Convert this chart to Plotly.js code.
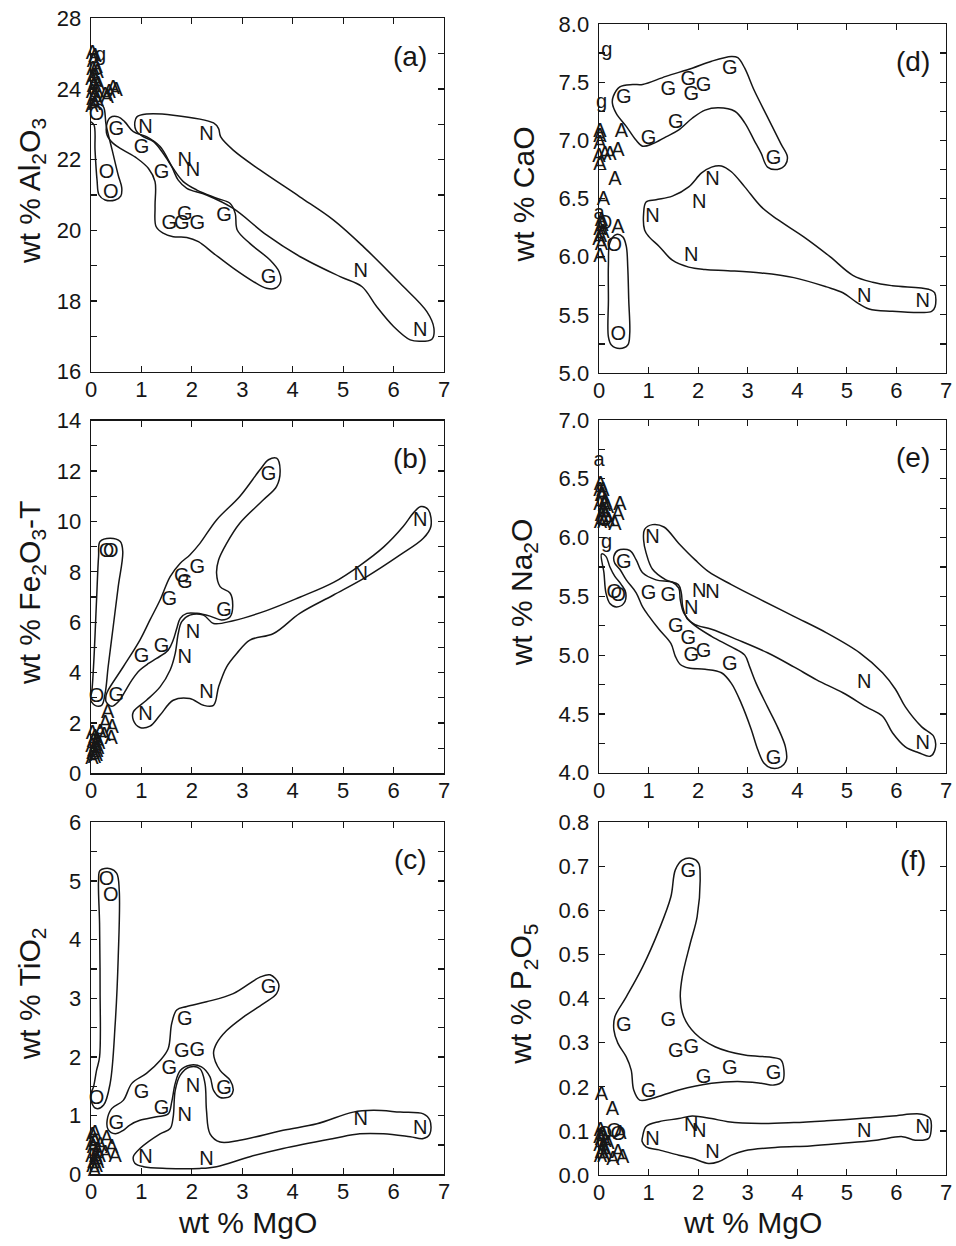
<!DOCTYPE html>
<html>
<head>
<meta charset="utf-8">
<script src="https://cdn.plot.ly/plotly-3.0.1.min.js"></script>
<style>
  html, body { margin: 0; padding: 0; background: #fff; }
  #chart { width: 956px; height: 1246px; }
</style>
</head>
<body>
<div id="chart"></div>
<script>
// ---- MgO (wt %) of the sample groups, shared by all six panels ----
const mgoG = [0.50, 1.00, 1.40, 1.55, 1.80, 1.86, 2.11, 2.64, 3.52];
const mgoN = [1.08, 1.86, 2.02, 2.29, 5.35, 6.53];
const mgoO = [0.11, 0.31, 0.39];

// ---- (a) Al2O3 ----
const alG = [22.84, 22.32, 21.63, 20.17, 20.17, 20.43, 20.17, 20.41, 18.66];
const alN = [22.90, 21.96, 21.69, 22.70, 18.82, 17.16];
const alO = [23.26, 21.63, 21.07];
const alA = [[0.03,25.0],[0.08,24.9],[0.05,24.75],[0.10,24.6],[0.04,24.55],[0.12,24.45],[0.06,24.35],[0.02,24.25],[0.09,24.2],[0.05,24.05],[0.11,23.95],[0.03,23.9],[0.08,23.8],[0.04,23.7],[0.12,23.65],[0.07,23.55],[0.02,23.5],[0.14,24.1],[0.28,23.8],[0.36,23.9],[0.44,24.0],[0.50,23.95],[0.32,23.75]];
const alMinor = [[0.19,24.92,'g']];
const alEnvO = [[0.06,22.98],[0.08,22.27],[0.12,21.42],[0.16,21.0],[0.28,20.86],[0.48,20.86],[0.59,20.97],[0.61,21.20],[0.54,21.56],[0.42,22.27],[0.30,22.98],[0.24,23.51],[0.10,23.57],[-0.03,23.46],[-0.03,23.12]];
const alEnvG = [[0.38,23.19],[0.54,23.21],[0.67,23.07],[0.84,22.79],[1.10,22.65],[1.37,22.37],[1.63,21.75],[1.83,21.38],[2.10,21.14],[2.49,20.91],[2.76,20.76],[2.86,20.48],[2.90,20.01],[3.15,19.63],[3.55,19.16],[3.73,18.83],[3.76,18.55],[3.65,18.36],[3.48,18.36],[3.22,18.55],[2.82,18.93],[2.43,19.35],[2.13,19.68],[1.90,19.80],[1.63,19.82],[1.43,19.92],[1.29,20.11],[1.27,20.67],[1.27,21.38],[1.14,21.75],[0.91,22.04],[0.64,22.27],[0.44,22.46],[0.32,22.69],[0.31,22.98]];
const alEnvN = [[0.91,23.21],[1.10,23.29],[1.63,23.26],[2.43,23.04],[2.53,22.88],[2.57,22.65],[2.82,22.27],[3.35,21.71],[4.14,20.95],[4.81,20.29],[5.40,19.54],[6.13,18.50],[6.66,17.70],[6.80,17.23],[6.76,16.92],[6.52,16.86],[6.33,16.90],[6.00,17.28],[5.66,17.85],[5.37,18.41],[4.94,18.69],[4.14,19.26],[3.48,19.87],[2.82,20.62],[2.29,21.0],[1.90,21.19],[1.73,21.42],[1.60,21.80],[1.43,22.18],[1.24,22.51],[1.01,22.67],[0.89,22.84],[0.87,23.07]];
const alTicks = [16,18,20,22,24,26];
const alTickText = ['16','18','20','22','24','28'];
const alMinorTicks = [17,19,21,23,25];

// ---- (b) Fe2O3-T ----
const feG = [3.06, 4.63, 5.00, 6.88, 7.81, 7.57, 8.17, 6.46, 11.85];
const feN = [2.31, 4.56, 5.58, 3.17, 7.87, 10.0];
const feO = [3.04, 8.80, 8.80];
const feA = [[0.03,1.55],[0.08,1.4],[0.05,1.25],[0.12,1.3],[0.02,1.05],[0.09,1.1],[0.06,0.9],[0.13,0.95],[0.04,0.75],[0.10,0.7],[0.07,0.6],[0.15,1.15],[0.18,1.6],[0.02,0.55],[0.11,0.85],[0.33,2.4],[0.28,1.95],[0.42,1.8],[0.26,1.5],[0.40,1.35]];
const feMinor = [];
const feEnvO = [[0.01,3.17],[0.05,4.23],[0.11,6.88],[0.15,8.60],[0.18,9.20],[0.38,9.33],[0.58,9.20],[0.63,8.80],[0.54,7.41],[0.44,5.82],[0.34,4.23],[0.28,3.17],[0.21,2.70],[0.08,2.70],[-0.02,2.97]];
const feEnvG = [[0.34,3.30],[0.64,4.23],[0.97,5.29],[1.17,6.09],[1.37,6.88],[1.57,7.81],[1.77,8.34],[1.96,8.67],[2.16,9.13],[2.49,10.06],[2.95,10.99],[3.35,12.05],[3.52,12.45],[3.68,12.51],[3.75,12.05],[3.68,11.39],[3.42,10.86],[2.95,9.93],[2.69,9.13],[2.53,8.47],[2.49,7.94],[2.56,7.41],[2.76,7.15],[2.81,6.62],[2.76,6.22],[2.59,6.09],[2.36,6.24],[2.10,6.35],[1.90,6.35],[1.77,6.15],[1.70,5.75],[1.63,5.29],[1.53,4.89],[1.30,4.56],[1.14,4.36],[0.97,4.10],[0.81,3.70],[0.67,3.23],[0.54,2.84],[0.41,2.66],[0.30,2.84],[0.30,3.10]];
const feEnvN = [[0.84,2.44],[1.10,2.90],[1.37,3.43],[1.57,4.10],[1.67,4.76],[1.73,5.55],[1.80,6.02],[1.96,6.28],[2.23,6.28],[2.43,5.95],[2.82,6.06],[3.48,6.46],[4.14,6.99],[4.81,7.58],[5.33,8.25],[5.80,8.98],[6.19,9.80],[6.39,10.33],[6.54,10.59],[6.69,10.46],[6.74,9.80],[6.59,9.33],[6.13,8.67],[5.47,7.81],[4.81,7.08],[4.14,6.35],[3.62,5.55],[3.15,5.29],[2.89,4.76],[2.69,4.23],[2.53,3.43],[2.43,2.70],[2.23,2.70],[1.96,2.97],[1.63,2.90],[1.37,2.31],[1.17,1.87],[0.97,1.82],[0.84,2.11]];
const feTicks = [0,2,4,6,8,10,12,14];
const feTickText = ['0','2','4','6','8','10','12','14'];
const feMinorTicks = [1,3,5,7,9,11,13];

// ---- (c) TiO2 ----
const tiG = [0.86, 1.38, 1.12, 1.80, 2.09, 2.63, 2.11, 1.46, 3.18];
const tiN = [0.28, 0.99, 1.49, 0.25, 0.92, 0.78];
const tiO = [1.29, 5.01, 4.74];
const tiA = [[0.03,0.65],[0.08,0.55],[0.05,0.45],[0.12,0.4],[0.02,0.3],[0.09,0.3],[0.06,0.2],[0.13,0.2],[0.04,0.12],[0.10,0.12],[0.16,0.3],[0.07,0.06],[0.02,0.5],[0.11,0.25],[0.08,0.69],[0.31,0.61],[0.18,0.49],[0.41,0.44],[0.28,0.35],[0.48,0.30]];
const tiMinor = [];
const tiEnvO = [[0.05,1.49],[0.11,1.77],[0.17,2.0],[0.18,3.14],[0.17,4.27],[0.15,5.01],[0.18,5.18],[0.38,5.21],[0.51,5.13],[0.56,4.84],[0.54,3.70],[0.48,2.57],[0.38,1.55],[0.25,1.18],[0.11,1.12],[0.01,1.23],[0.01,1.40]];
const tiEnvG = [[0.32,0.92],[0.41,1.12],[0.64,1.26],[0.81,1.55],[1.10,1.72],[1.37,1.94],[1.53,2.14],[1.60,2.57],[1.70,2.80],[1.90,2.86],[2.29,2.94],[2.82,3.08],[3.35,3.36],[3.55,3.40],[3.72,3.25],[3.68,3.08],[3.42,2.91],[3.02,2.68],[2.69,2.45],[2.49,2.23],[2.43,2.06],[2.56,1.77],[2.76,1.60],[2.82,1.43],[2.76,1.33],[2.56,1.31],[2.43,1.43],[2.36,1.66],[2.19,1.83],[1.96,1.86],[1.77,1.77],[1.67,1.55],[1.60,1.23],[1.53,1.03],[1.30,0.98],[0.97,0.92],[0.77,0.84],[0.64,0.75],[0.48,0.69],[0.34,0.76]];
const tiEnvN = [[0.84,0.30],[0.97,0.44],[1.37,0.69],[1.57,0.78],[1.63,0.98],[1.67,1.43],[1.77,1.69],[1.96,1.83],[2.16,1.80],[2.26,1.55],[2.29,1.09],[2.36,0.69],[2.56,0.55],[2.95,0.58],[3.81,0.75],[4.48,0.86],[5.20,1.06],[5.60,1.09],[6.13,1.06],[6.59,1.03],[6.72,0.92],[6.72,0.69],[6.59,0.61],[6.33,0.64],[5.80,0.69],[5.33,0.69],[4.81,0.61],[3.81,0.44],[3.15,0.30],[2.49,0.13],[2.16,0.10],[1.50,0.10],[1.04,0.13],[0.87,0.19]];
const tiTicks = [0,1,2,3,4,5,6];
const tiTickText = ['0','1','2','3','4','5','6'];
const tiMinorTicks = [0.5,1.5,2.5,3.5,4.5,5.5];

// ---- (d) CaO ----
const caG = [7.36, 7.01, 7.43, 7.15, 7.52, 7.39, 7.47, 7.61, 6.84];
const caN = [6.34, 6.01, 6.46, 6.66, 5.65, 5.61];
const caO = [6.28, 6.09, 5.33];
const caA = [[0.45,7.07],[0.38,6.91],[0.32,6.66],[0.09,6.49],[0.38,6.25],[0.02,7.07],[0.02,7.03],[0.02,6.97],[0.0,6.86],[0.12,6.87],[0.22,6.87],[0.02,6.79],[0.05,6.31],[0.02,6.23],[0.08,6.20],[0.0,6.14],[0.05,6.1],[0.02,6.0],[0.06,6.26],[0.03,6.17]];
const caMinor = [[0.16,7.77,'g'],[0.05,7.32,'g'],[0.0,6.37,'a']];
const caEnvG = [[0.29,7.38],[0.42,7.46],[0.68,7.48],[0.88,7.48],[1.35,7.55],[1.88,7.62],[2.27,7.68],[2.67,7.72],[2.80,7.71],[2.94,7.62],[3.13,7.43],[3.40,7.20],[3.67,6.97],[3.80,6.86],[3.76,6.79],[3.60,6.75],[3.40,6.77],[3.27,6.89],[3.13,7.0],[2.94,7.15],[2.74,7.25],[2.41,7.28],[2.14,7.26],[1.88,7.19],[1.61,7.09],[1.35,7.03],[1.08,6.97],[0.88,6.95],[0.75,7.0],[0.55,7.12],[0.35,7.23],[0.27,7.32]];
const caEnvN = [[0.95,6.47],[1.15,6.49],[1.48,6.52],[1.81,6.60],[2.07,6.72],[2.27,6.77],[2.47,6.78],[2.67,6.73],[2.94,6.60],[3.27,6.43],[3.60,6.32],[4.13,6.17],[4.66,6.0],[5.12,5.84],[5.52,5.78],[5.92,5.75],[6.65,5.72],[6.77,5.69],[6.78,5.57],[6.71,5.53],[6.51,5.52],[5.92,5.53],[5.45,5.55],[5.19,5.61],[4.92,5.69],[4.59,5.74],[3.93,5.82],[3.27,5.86],[2.60,5.88],[2.14,5.89],[1.81,5.91],[1.48,5.97],[1.21,6.09],[1.01,6.17],[0.92,6.23],[0.90,6.37]];
const caEnvO = [[0.19,5.94],[0.22,6.12],[0.35,6.19],[0.48,6.17],[0.55,6.09],[0.58,5.91],[0.60,5.63],[0.62,5.34],[0.58,5.24],[0.42,5.21],[0.25,5.24],[0.19,5.31],[0.19,5.63]];
const caTicks = [5,5.5,6,6.5,7,7.5,8];
const caTickText = ['5.0','5.5','6.0','6.5','7.0','7.5','8.0'];
const caMinorTicks = [5.25,5.75,6.25,6.75,7.25,7.75];

// ---- (e) Na2O ----
const naG = [5.78, 5.52, 5.50, 5.24, 5.14, 4.99, 5.03, 4.92, 4.12];
const naN = [6.00, 5.39, 5.54, 5.53, 4.76, 4.24];
const naO = [6.14, 5.53, 5.50];
const naA = [[0.03,6.45],[0.08,6.4],[0.05,6.35],[0.12,6.3],[0.02,6.28],[0.09,6.22],[0.05,6.18],[0.14,6.18],[0.03,6.12],[0.10,6.12],[0.17,6.25],[0.07,6.35],[0.02,6.4],[0.11,6.27],[0.42,6.28],[0.38,6.19],[0.32,6.11],[0.19,6.14]];
const naMinor = [[0.15,5.95,'g'],[0.0,6.65,'a']];
const naEnvN = [[0.92,6.07],[1.08,6.11],[1.31,6.09],[1.61,5.95],[1.94,5.81],[2.21,5.71],[2.67,5.60],[3.27,5.47],[3.93,5.33],[4.59,5.19],[5.26,5.02],[5.72,4.85],[5.98,4.71],[6.18,4.56],[6.51,4.39],[6.75,4.31],[6.78,4.20],[6.68,4.14],[6.45,4.17],[6.18,4.22],[5.92,4.34],[5.72,4.48],[5.39,4.56],[4.92,4.68],[4.39,4.79],[3.93,4.90],[3.40,5.02],[2.80,5.13],[2.27,5.22],[1.94,5.26],[1.78,5.31],[1.69,5.41],[1.66,5.53],[1.60,5.60],[1.35,5.64],[1.08,5.73],[0.95,5.87],[0.90,5.98]];
const naEnvG = [[0.30,5.84],[0.38,5.89],[0.62,5.89],[0.75,5.81],[0.88,5.70],[1.15,5.64],[1.48,5.62],[1.61,5.57],[1.64,5.47],[1.71,5.36],[1.88,5.27],[2.27,5.16],[2.67,5.07],[2.94,5.00],[3.04,4.90],[3.17,4.76],[3.40,4.56],[3.60,4.39],[3.76,4.22],[3.78,4.11],[3.67,4.05],[3.47,4.04],[3.33,4.08],[3.20,4.20],[3.07,4.37],[2.87,4.59],[2.67,4.76],[2.47,4.85],[2.14,4.88],[1.81,4.89],[1.64,4.92],[1.54,4.99],[1.45,5.10],[1.21,5.22],[1.01,5.33],[0.88,5.41],[0.75,5.53],[0.55,5.64],[0.42,5.73],[0.32,5.78]];
const naEnvO = [[0.05,5.86],[0.10,5.70],[0.14,5.53],[0.22,5.44],[0.35,5.41],[0.50,5.44],[0.54,5.53],[0.45,5.60],[0.32,5.67],[0.22,5.75],[0.14,5.84]];
const naTicks = [4,4.5,5,5.5,6,6.5,7];
const naTickText = ['4.0','4.5','5.0','5.5','6.0','6.5','7.0'];
const naMinorTicks = [4.25,4.75,5.25,5.75,6.25,6.75];

// ---- (f) P2O5 ----
const pG = [0.338, 0.189, 0.349, 0.278, 0.688, 0.287, 0.219, 0.240, 0.228];
const pN = [0.079, 0.110, 0.098, 0.049, 0.098, 0.106];
const pO = [0.090, 0.098, 0.091];
const pA = [[0.05,0.181],[0.27,0.147],[0.03,0.10],[0.08,0.09],[0.05,0.08],[0.12,0.075],[0.02,0.065],[0.09,0.06],[0.05,0.05],[0.14,0.05],[0.03,0.04],[0.10,0.04],[0.18,0.07],[0.02,0.085],[0.42,0.094],[0.38,0.049],[0.48,0.038],[0.28,0.034]];
const pMinor = [];
const pEnvG = [[0.32,0.359],[0.55,0.404],[0.88,0.472],[1.21,0.556],[1.45,0.631],[1.54,0.692],[1.68,0.714],[1.88,0.718],[2.01,0.707],[2.04,0.677],[1.98,0.586],[1.84,0.525],[1.68,0.450],[1.64,0.404],[1.71,0.359],[1.94,0.321],[2.34,0.291],[2.94,0.272],[3.47,0.267],[3.67,0.261],[3.73,0.238],[3.70,0.212],[3.53,0.204],[3.27,0.208],[2.80,0.212],[2.27,0.208],[1.61,0.193],[1.08,0.174],[0.82,0.170],[0.70,0.193],[0.65,0.238],[0.55,0.268],[0.38,0.299],[0.30,0.329]];
const pEnvN = [[0.88,0.087],[0.95,0.110],[1.21,0.121],[1.61,0.128],[1.88,0.134],[2.27,0.128],[2.60,0.121],[3.27,0.117],[3.93,0.119],[4.59,0.123],[5.26,0.128],[5.92,0.134],[6.51,0.138],[6.68,0.128],[6.70,0.102],[6.65,0.083],[6.38,0.079],[6.12,0.087],[5.59,0.079],[4.92,0.072],[4.26,0.066],[3.60,0.063],[2.94,0.055],[2.67,0.045],[2.41,0.030],[2.21,0.026],[1.88,0.038],[1.61,0.045],[1.21,0.057],[0.95,0.064],[0.87,0.076]];
const pTicks = [0,0.1,0.2,0.3,0.4,0.5,0.6,0.7,0.8];
const pTickText = ['0.0','0.1','0.2','0.3','0.4','0.5','0.6','0.7','0.8'];
const pMinorTicks = [];

const mgoTicks = [0,1,2,3,4,5,6,7];

// ---- drawing ----
const FONT = 'Liberation Sans, Arial, Helvetica, sans-serif';
const INK = '#161616';

const panels = [
  {id:'', yG:alG, yN:alN, yO:alO, A:alA, minor:alMinor, envs:[alEnvO, alEnvG, alEnvN], yr:[16,26], tv:alTicks, tt:alTickText, mt:alMinorTicks,
   ytitle:'wt % Al<sub>2</sub>O<sub>3</sub>', tag:'(a)', xd:[91,444], yd:[18.3,371.7], xtitle:false},
  {id:'2', yG:feG, yN:feN, yO:feO, A:feA, minor:feMinor, envs:[feEnvO, feEnvG, feEnvN], yr:[0,14], tv:feTicks, tt:feTickText, mt:feMinorTicks,
   ytitle:'wt % Fe<sub>2</sub>O<sub>3</sub>-T', tag:'(b)', xd:[91,444], yd:[420.7,773.3], xtitle:false},
  {id:'3', yG:tiG, yN:tiN, yO:tiO, A:tiA, minor:tiMinor, envs:[tiEnvO, tiEnvG, tiEnvN], yr:[0,6], tv:tiTicks, tt:tiTickText, mt:tiMinorTicks,
   ytitle:'wt % TiO<sub>2</sub>', tag:'(c)', xd:[91,444], yd:[822.3,1174.3], xtitle:true},
  {id:'4', yG:caG, yN:caN, yO:caO, A:caA, minor:caMinor, envs:[caEnvG, caEnvN, caEnvO], yr:[5,8], tv:caTicks, tt:caTickText, mt:caMinorTicks,
   ytitle:'wt % CaO', tag:'(d)', xd:[599,946], yd:[24,373], xtitle:false},
  {id:'5', yG:naG, yN:naN, yO:naO, A:naA, minor:naMinor, envs:[naEnvN, naEnvG, naEnvO], yr:[4,7], tv:naTicks, tt:naTickText, mt:naMinorTicks,
   ytitle:'wt % Na<sub>2</sub>O', tag:'(e)', xd:[599,946], yd:[420,772.7], xtitle:false},
  {id:'6', yG:pG, yN:pN, yO:pO, A:pA, minor:pMinor, envs:[pEnvG, pEnvN], yr:[0,0.8], tv:pTicks, tt:pTickText, mt:pMinorTicks,
   ytitle:'wt % P<sub>2</sub>O<sub>5</sub>', tag:'(f)', xd:[599,946], yd:[822.3,1175], xtitle:true}
];

const W = 956, H = 1246;
const traces = [];
const layout = {
  width: W, height: H,
  margin: {l:0, r:0, t:0, b:0},
  paper_bgcolor: '#fff', plot_bgcolor: '#fff',
  showlegend: false,
  font: {family: FONT, color: INK},
  annotations: []
};

function letterTrace(xs, ys, labels, ax) {
  return {
    type: 'scatter', mode: 'text', x: xs, y: ys, text: labels,
    textposition: 'middle center', cliponaxis: false,
    textfont: {family: FONT, size: 20, color: INK},
    xaxis: 'x' + ax, yaxis: 'y' + ax, hoverinfo: 'skip'
  };
}

panels.forEach(p => {
  // envelopes (closed smooth outlines)
  p.envs.forEach(env => {
    const pts = env.concat([env[0]]);
    traces.push({
      type: 'scatter', mode: 'lines',
      x: pts.map(d => d[0]), y: pts.map(d => d[1]),
      line: {shape: 'spline', smoothing: 1, width: 1.5, color: INK},
      xaxis: 'x' + p.id, yaxis: 'y' + p.id, hoverinfo: 'skip'
    });
  });
  traces.push(letterTrace(p.A.map(d => d[0]), p.A.map(d => d[1]), p.A.map(() => 'A'), p.id));
  traces.push(letterTrace(mgoO, p.yO, mgoO.map(() => 'O'), p.id));
  traces.push(letterTrace(mgoG, p.yG, mgoG.map(() => 'G'), p.id));
  traces.push(letterTrace(mgoN, p.yN, mgoN.map(() => 'N'), p.id));
  if (p.minor.length) {
    traces.push(letterTrace(p.minor.map(d => d[0]), p.minor.map(d => d[1]), p.minor.map(d => d[2]), p.id));
  }

  const common = {
    showline: true, linewidth: 1.4, linecolor: INK, mirror: 'ticks',
    ticks: 'inside', ticklen: 6, tickwidth: 1.2, tickcolor: INK,
    showgrid: false, zeroline: false, fixedrange: true,
    ticklabeloverflow: 'allow',
    tickfont: {family: FONT, size: 22, color: INK}
  };
  layout['xaxis' + p.id] = Object.assign({}, common, {
    domain: [p.xd[0] / W, p.xd[1] / W], range: [0, 7],
    tickmode: 'array', tickvals: mgoTicks, ticktext: mgoTicks.map(String),
    anchor: 'y' + p.id, ticklabelstandoff: -3
  });
  const yax = Object.assign({}, common, {
    domain: [1 - p.yd[1] / H, 1 - p.yd[0] / H], range: p.yr,
    tickmode: 'array', tickvals: p.tv, ticktext: p.tt,
    anchor: 'x' + p.id, ticklabelstandoff: 4
  });
  if (p.mt.length) {
    yax.minor = {tickmode: 'array', tickvals: p.mt, ticks: 'inside', ticklen: 6, tickwidth: 1.2, tickcolor: INK};
  }
  layout['yaxis' + p.id] = yax;

  const left = p.xd[0] < 300;
  const cy = (p.yd[0] + p.yd[1]) / 2 - 4;
  layout.annotations.push({
    xref: 'paper', yref: 'paper', x: (left ? 31 : 523) / W, y: 1 - cy / H,
    text: p.ytitle, textangle: -90, showarrow: false,
    xanchor: 'center', yanchor: 'middle',
    font: {family: FONT, size: 30, color: INK}
  });
  layout.annotations.push({
    xref: 'x' + p.id + ' domain', yref: 'y' + p.id + ' domain', x: 0.905, y: 0.893,
    text: p.tag, showarrow: false, xanchor: 'center', yanchor: 'middle',
    font: {family: FONT, size: 28, color: INK}
  });
  if (p.xtitle) {
    layout.annotations.push({
      xref: 'paper', yref: 'paper', x: ((p.xd[0] + p.xd[1]) / 2 - 20) / W, y: 1 - 1222 / H,
      text: 'wt % MgO', showarrow: false, xanchor: 'center', yanchor: 'middle',
      font: {family: FONT, size: 30, color: INK}
    });
  }
});

Plotly.newPlot('chart', traces, layout, {staticPlot: true, displayModeBar: false});
</script>
</body>
</html>
